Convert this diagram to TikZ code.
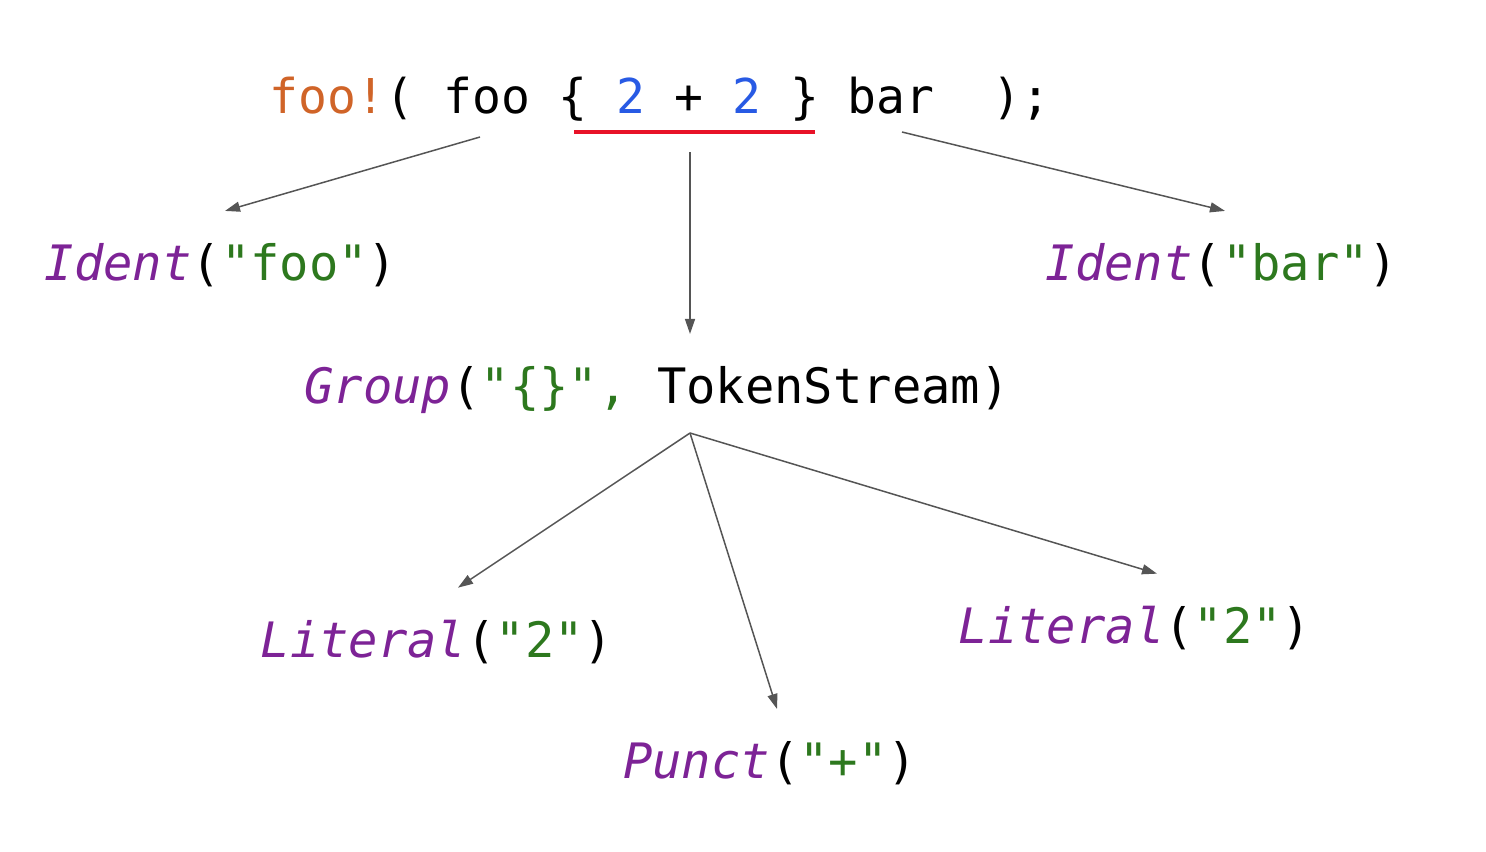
\documentclass[tikz,border=0pt]{standalone}
\usepackage{fontspec}
\setmonofont{DejaVu Sans Mono}
\usetikzlibrary{arrows.meta,calc}

\definecolor{macrocol}{RGB}{208,100,40}
\definecolor{numcol}{RGB}{40,90,228}
\definecolor{kindcol}{RGB}{125,35,150}
\definecolor{strcol}{RGB}{45,120,30}
\definecolor{markcol}{RGB}{232,18,40}
\definecolor{linkcol}{RGB}{85,85,85}

\newcommand{\kind}[1]{\textcolor{kindcol}{\itshape #1}}
\newcommand{\strtok}[1]{\textcolor{strcol}{#1}}

\tikzset{
  tok/.style={font=\ttfamily\fontsize{24.4}{28}\selectfont, inner sep=0pt,
    outer ysep=16pt, anchor=base},
  link/.style={draw=linkcol, line width=0.75pt,
    -{Triangle[length=7.5pt,width=5pt]}},
  errline/.style={draw=markcol, line width=2pt},
}

\begin{document}
\begin{tikzpicture}[x=0.5pt,y=-0.5pt]
  \useasboundingbox (0,0) rectangle (1486,851);
  % source line
  \node[tok,font=\ttfamily\fontsize{24}{28}\selectfont] (src) at (660,113)
    {\textcolor{macrocol}{foo!}( foo \{ \textcolor{numcol}{2} + \textcolor{numcol}{2} \} bar\ \ );};
  \draw[errline] (574,132) -- (815,132);
  % token trees
  \node[tok] (ifoo) at (221,280) {\kind{Ident}(\strtok{"foo"})};
  \node[tok] (ibar) at (1222,280) {\kind{Ident}(\strtok{"bar"})};
  \node[tok] (grp) at (657,403) {\kind{Group}(\strtok{"\{\}",} TokenStream)};
  \node[tok] (lita) at (437,657) {\kind{Literal}(\strtok{"2"})};
  \node[tok] (punc) at (770,778) {\kind{Punct}(\strtok{"+"})};
  \node[tok] (litb) at (1135,643) {\kind{Literal}(\strtok{"2"})};
  % tails
  \coordinate (footail) at (480,137);
  \coordinate (grptail) at (690,152);
  \coordinate (bartail) at (902,132);
  \coordinate (fork) at (690,433);
  \draw[link] (footail) -- ($(ifoo.north)+(4,0)$);
  \draw[link] (grptail) -- ($(grp.north)+(33,0)$);
  \draw[link] (bartail) -- ($(ibar.north)+(3,0)$);
  \draw[link] (fork) -- ($(lita.north)+(21,0)$);
  \draw[link] (fork) -- ($(punc.north)+(7,0)$);
  \draw[link] (fork) -- ($(litb.north)+(22,0)$);
\end{tikzpicture}
\end{document}
